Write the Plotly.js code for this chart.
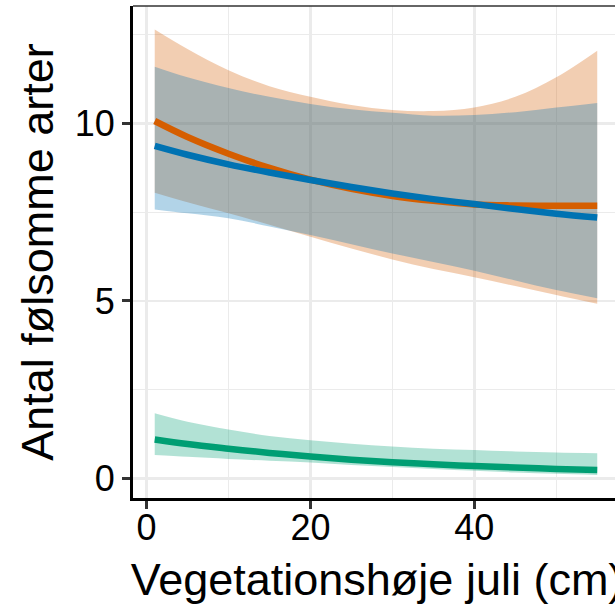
<!DOCTYPE html>
<html>
<head>
<meta charset="utf-8">
<script src="https://cdn.plot.ly/plotly-3.0.1.min.js"></script>
<style>
html, body { margin: 0; padding: 0; overflow: hidden; background: #fff; }
#chart { width: 630px; height: 606px; }
</style>
</head>
<body>
<div id="chart"></div>
<script>
// Vegetation height (cm)
const xVals = [1, 5, 10, 15, 20, 25, 30, 35, 40, 45, 50, 55];

// Orange group
const orangeFit = [10.07, 9.62, 9.15, 8.75, 8.42, 8.16, 7.96, 7.82, 7.72, 7.69, 7.68, 7.68];
const orangeLo  = [8.05, 7.78, 7.47, 7.15, 6.81, 6.48, 6.17, 5.90, 5.67, 5.42, 5.17, 4.92];
const orangeHi  = [12.65, 12.10, 11.50, 11.05, 10.75, 10.52, 10.38, 10.35, 10.45, 10.75, 11.30, 12.05];

// Blue group
const blueFit = [9.37, 9.12, 8.85, 8.62, 8.41, 8.21, 8.03, 7.87, 7.73, 7.59, 7.46, 7.35];
const blueLo  = [7.58, 7.47, 7.33, 7.10, 6.86, 6.60, 6.34, 6.10, 5.85, 5.58, 5.31, 5.08];
const blueHi  = [11.60, 11.30, 11.00, 10.75, 10.55, 10.40, 10.30, 10.22, 10.24, 10.32, 10.45, 10.58];

// Green group
const greenFit = [1.10, 0.97, 0.84, 0.72, 0.62, 0.53, 0.46, 0.40, 0.35, 0.31, 0.27, 0.24];
const greenLo  = [0.66, 0.61, 0.55, 0.50, 0.45, 0.38, 0.32, 0.27, 0.22, 0.17, 0.13, 0.10];
const greenHi  = [1.84, 1.60, 1.38, 1.20, 1.08, 0.98, 0.90, 0.84, 0.80, 0.76, 0.73, 0.71];

const xTicks = [0, 20, 40, 60];
const xMinor = [10, 30, 50];
const yTicks = [0, 5, 10];
const yMinor = [2.5, 7.5, 12.5];

const xTitle = 'Vegetationshøje juli (cm)';
const yTitle = 'Antal følsomme arter';

const groups = [
  {fit: orangeFit, lo: orangeLo, hi: orangeHi, line: '#D55E00', fill: 'rgba(213,94,0,0.3)'},
  {fit: blueFit, lo: blueLo, hi: blueHi, line: '#0072B2', fill: 'rgba(0,114,178,0.3)'},
  {fit: greenFit, lo: greenLo, hi: greenHi, line: '#009E73', fill: 'rgba(0,158,115,0.3)'}
];

const traces = [];
groups.forEach(g => {
  traces.push({x: xVals, y: g.lo, type: 'scatter', mode: 'lines',
    line: {width: 0, shape: 'spline', smoothing: 1}, hoverinfo: 'skip', showlegend: false});
  traces.push({x: xVals, y: g.hi, type: 'scatter', mode: 'lines', fill: 'tonexty',
    fillcolor: g.fill, line: {width: 0, shape: 'spline', smoothing: 1}, hoverinfo: 'skip', showlegend: false});
});
groups.forEach(g => {
  traces.push({x: xVals, y: g.fit, type: 'scatter', mode: 'lines',
    line: {color: g.line, width: 6.5, shape: 'spline', smoothing: 1}, showlegend: false});
});

const font = 'Liberation Sans, Arial, sans-serif';
const layout = {
  width: 630, height: 606,
  margin: {l: 133, r: 9, t: 6, b: 108, pad: 0},
  paper_bgcolor: '#ffffff', plot_bgcolor: '#ffffff',
  showlegend: false,
  font: {family: font, color: '#000'},
  xaxis: {
    range: [-1.65, 57.9], tickvals: xTicks, ticktext: xTicks.map(String),
    ticks: 'outside', ticklen: 8, tickwidth: 3, tickcolor: '#333333',
    ticklabelstandoff: -12,
    showline: true, linewidth: 3, linecolor: '#000', zeroline: false,
    showgrid: true, gridcolor: '#EBEBEB', gridwidth: 2.5,
    minor: {tickvals: xMinor, showgrid: true, gridcolor: '#EBEBEB', gridwidth: 1.3, ticks: ''},
    tickfont: {family: font, size: 36, color: '#000'},
    title: {text: xTitle, font: {family: font, size: 45, color: '#000'}, standoff: 17}
  },
  yaxis: {
    range: [-0.55, 13.31], tickvals: yTicks, ticktext: yTicks.map(String),
    ticks: 'outside', ticklen: 8, tickwidth: 3, tickcolor: '#333333',
    showline: true, linewidth: 3, linecolor: '#000', zeroline: false,
    showgrid: true, gridcolor: '#EBEBEB', gridwidth: 2.5,
    minor: {tickvals: yMinor, showgrid: true, gridcolor: '#EBEBEB', gridwidth: 1.3, ticks: ''},
    tickfont: {family: font, size: 36, color: '#000'},
    title: {text: yTitle, font: {family: font, size: 45, color: '#000'}, standoff: 8}
  },
  shapes: [
    {type: 'line', xref: 'paper', yref: 'paper', x0: 0, x1: 1, y0: 1, y1: 1,
     line: {color: '#333333', width: 1.5}}
  ]
};

Plotly.newPlot('chart', traces, layout, {staticPlot: true, displayModeBar: false});
</script>
</body>
</html>
